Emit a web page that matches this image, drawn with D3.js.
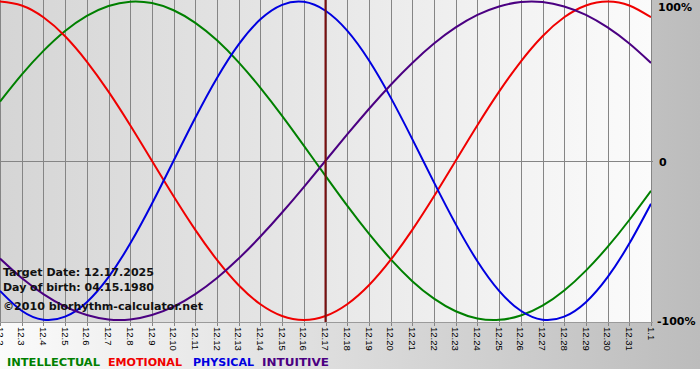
<!DOCTYPE html>
<html><head><meta charset="utf-8">
<script src="https://cdn.jsdelivr.net/npm/d3@7"></script>
<style>html,body{margin:0;padding:0;background:#fff;}svg{display:block;}</style>
</head><body>
<script>
const days = ["12.2","12.3","12.4","12.5","12.6","12.7","12.8","12.9","12.10","12.11","12.12","12.13","12.14","12.15","12.16","12.17","12.18","12.19","12.20","12.21","12.22","12.23","12.24","12.25","12.26","12.27","12.28","12.29","12.30","12.31","1.1"];
const intellectual = [37.2,54.1,69.0,81.5,91.0,97.2,99.9,99.0,94.5,86.6,75.6,61.8,45.8,28.2,9.5,-9.5,-28.2,-45.8,-61.8,-75.6,-86.6,-94.5,-99.0,-99.9,-97.2,-91.0,-81.5,-69.0,-54.1,-37.2,-18.9];
const emotional = [100,97.5,90.1,78.2,62.3,43.4,22.3,0,-22.3,-43.4,-62.3,-78.2,-90.1,-97.5,-100,-97.5,-90.1,-78.2,-62.3,-43.4,-22.3,0,22.3,43.4,62.3,78.2,90.1,97.5,100,97.5,90.1];
const physical = [-81.7,-94.2,-99.8,-97.9,-88.8,-73.1,-52.0,-27.0,0,27.0,52.0,73.1,88.8,97.9,99.8,94.2,81.7,63.1,39.8,13.6,-13.6,-39.8,-63.1,-81.7,-94.2,-99.8,-97.9,-88.8,-73.1,-52.0,-27.0];
const intuitive = [-61.4,-73.6,-83.7,-91.6,-96.9,-99.7,-99.7,-96.9,-91.6,-83.7,-73.6,-61.4,-47.6,-32.5,-16.5,0,16.5,32.5,47.6,61.4,73.6,83.7,91.6,96.9,99.7,99.7,96.9,91.6,83.7,73.6,61.4];
const yTicks = [100, 0, -100];
const yTickLabels = ["100%", "0", "-100%"];
const targetDay = "12.17";
const infoLines = ["Target Date: 12.17.2025", "Day of birth: 04.15.1980", "\u00a92010 biorhythm-calculator.net"];
const legendNames = ["INTELLECTUAL", "EMOTIONAL", "PHYSICAL", "INTUITIVE"];

const W = 700, H = 380;
const plotW = 651, plotH = 322;
const series = [
  {name: legendNames[0], values: intellectual, color: "#008000"},
  {name: legendNames[1], values: emotional, color: "#f00000"},
  {name: legendNames[2], values: physical, color: "#0000e0"},
  {name: legendNames[3], values: intuitive, color: "#4b0082"}
];

const svg = d3.select("body").append("svg").attr("width", W).attr("height", H);
const defs = svg.append("defs");
const g1 = defs.append("linearGradient").attr("id","outerBg").attr("x1","0").attr("x2","1").attr("y1","0").attr("y2","0");
g1.append("stop").attr("offset","0").attr("stop-color","#fbfbfb");
g1.append("stop").attr("offset","1").attr("stop-color","#bcbcbc");
const g2 = defs.append("linearGradient").attr("id","plotBg").attr("x1","0").attr("x2","1").attr("y1","0").attr("y2","0");
g2.append("stop").attr("offset","0").attr("stop-color","#d5d5d5");
g2.append("stop").attr("offset","1").attr("stop-color","#fbfbfb");
defs.append("clipPath").attr("id","clip").append("rect").attr("x",0).attr("y",0).attr("width",plotW).attr("height",plotH);

svg.append("rect").attr("width",W).attr("height",H).attr("fill","#fff");
svg.append("rect").attr("width",W).attr("height",369).attr("fill","url(#outerBg)");
svg.append("rect").attr("width",plotW).attr("height",plotH).attr("fill","url(#plotBg)");

const x = d3.scalePoint().domain(days).range([0, plotW]);
const y = d3.scaleLinear().domain([-100, 100]).range([320, 1.5]);

// vertical grid lines (with tick extension)
const grid = svg.append("g");
grid.selectAll("line.v").data(days).join("line")
  .attr("x1", d => Math.round(x(d)) + 0.5).attr("x2", d => Math.round(x(d)) + 0.5)
  .attr("y1", 0).attr("y2", 326)
  .attr("stroke", "#858585").attr("stroke-width", 1);
// zero line and bottom line
grid.append("line").attr("x1",0).attr("x2",plotW+2).attr("y1",Math.round(y(0))+0.5).attr("y2",Math.round(y(0))+0.5).attr("stroke","#858585");
grid.append("line").attr("x1",0).attr("x2",plotW+2).attr("y1",322.5).attr("y2",322.5).attr("stroke","#9a9a9a");

// x labels
svg.append("g").selectAll("text").data(days).join("text")
  .attr("transform", d => `translate(${x(d)},327) rotate(90)`)
  .attr("dy", "0.35em")
  .attr("font-family", "'Liberation Sans', Arial, sans-serif")
  .attr("font-size", "9.5px")
  .attr("fill", "#000")
  .text(d => d);

// y labels
svg.append("g").selectAll("text").data(yTicks).join("text")
  .attr("x", (d,i) => i === 2 ? 657 : (i === 1 ? 659 : 658))
  .attr("y", d => y(d) + (d === 100 ? 9 : (d === 0 ? 5 : 5)))
  .attr("font-family", "'DejaVu Sans', Verdana, sans-serif")
  .attr("font-weight", "bold")
  .attr("font-size", "11px")
  .attr("fill", "#000")
  .text((d,i) => yTickLabels[i]);

// curves
const line = d3.line().x((d,i) => x(days[i])).y(d => y(d)).curve(d3.curveNatural);
svg.append("g").attr("clip-path","url(#clip)").selectAll("path").data(series).join("path")
  .attr("d", s => line(s.values))
  .attr("fill","none").attr("stroke", s => s.color).attr("stroke-width", 2);

// target line
svg.append("line").attr("x1", x(targetDay)).attr("x2", x(targetDay)).attr("y1", 0).attr("y2", 322)
  .attr("stroke", "#7a0f0f").attr("stroke-width", 2);

// info text
const infoY = [276, 291, 310];
const infoW = [151, 151, 200];
svg.append("g").selectAll("text").data(infoLines).join("text")
  .attr("x", 3).attr("y", (d,i) => infoY[i])
  .attr("font-family", "'DejaVu Sans Condensed', 'DejaVu Sans', sans-serif")
  .attr("font-weight", "bold").attr("font-size", "11px")
  .attr("fill", "#111")
  .attr("textLength", (d,i) => infoW[i]).attr("lengthAdjust", "spacingAndGlyphs")
  .text(d => d);

// legend
const legX = [7, 108, 193, 262];
const legW = [93, 74, 61, 67];
svg.append("g").selectAll("text").data(series).join("text")
  .attr("x", (d,i) => legX[i]).attr("y", 366)
  .attr("font-family", "'DejaVu Sans Condensed', 'DejaVu Sans', sans-serif")
  .attr("font-weight", "bold").attr("font-size", "11px")
  .attr("fill", d => d.color)
  .attr("textLength", (d,i) => legW[i]).attr("lengthAdjust", "spacingAndGlyphs")
  .text(d => d.name);
</script>
</body></html>
